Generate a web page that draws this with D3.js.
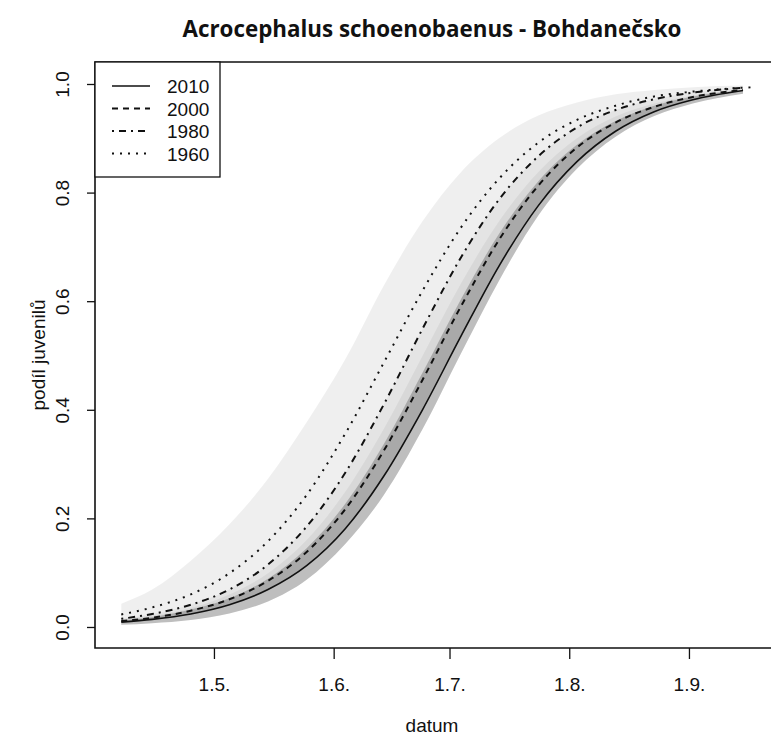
<!DOCTYPE html>
<html><head><meta charset="utf-8">
<script src="https://cdn.jsdelivr.net/npm/d3@7"></script>
<style>body{margin:0;background:#fff;overflow:hidden}svg{display:block}</style>
</head><body>
<svg id="c" width="771" height="740"></svg>
<script>
// ---- data ----
const title = "Acrocephalus schoenobaenus - Bohdanečsko";
const xLabel = "datum";
const yLabel = "podíl juvenilů";
// day of year
const days     = [97,105,115,125,135,145,155,165,175,185,195,205,215,225,235,245,258];
const days1960 = [97,105,115,125,135,145,155,165,175,185,195,205,215,225,235,245,260];
const p2010 = [0.009,0.014,0.024,0.041,0.069,0.113,0.181,0.278,0.400,0.536,0.667,0.776,0.857,0.913,0.949,0.971,0.988];
const p2000 = [0.011,0.017,0.030,0.051,0.085,0.138,0.217,0.325,0.455,0.591,0.715,0.813,0.883,0.929,0.958,0.976,0.989];
const p1980 = [0.015,0.024,0.041,0.069,0.115,0.185,0.284,0.410,0.549,0.681,0.789,0.867,0.920,0.952,0.972,0.984,0.993];
const p1960 = [0.023,0.036,0.060,0.099,0.158,0.243,0.356,0.487,0.619,0.736,0.827,0.892,0.934,0.960,0.977,0.986,0.994];
// confidence band edges
const bandTop    = [0.043,0.069,0.122,0.189,0.273,0.377,0.493,0.629,0.747,0.838,0.901,0.942,0.966,0.981,0.989,0.994,0.997];
const bandBottom = [0.004,0.007,0.013,0.025,0.047,0.087,0.153,0.243,0.364,0.504,0.640,0.758,0.844,0.903,0.941,0.964,0.982];
const band2000Hi = [0.013,0.021,0.035,0.060,0.099,0.160,0.249,0.365,0.499,0.633,0.749,0.838,0.900,0.940,0.964,0.979,0.990];
const band2010Hi = [0.012,0.018,0.032,0.053,0.089,0.145,0.227,0.337,0.468,0.604,0.726,0.821,0.888,0.932,0.960,0.977,0.988];
// axes
const xTickDays   = [121,152,182,213,244];
const xTickLabels = ["1.5.","1.6.","1.7.","1.8.","1.9."];
const yTicks      = [0,0.2,0.4,0.6,0.8,1.0];
const legendYears = ["2010","2000","1980","1960"];

// ---- drawing ----
const svg = d3.select("#c");
const FONT = "'Liberation Sans', Arial, sans-serif";
const L = 95, T = 62, B = 648, R = 800;
const x = d3.scaleLinear().domain([90.2, 266.8]).range([L, 777]);
const y = d3.scaleLinear().domain([-0.0387, 1.0405]).range([B, T]);

const area = d3.area().x(d => x(d[0])).y0(d => y(d[1])).y1(d => y(d[2])).curve(d3.curveMonotoneX);
const line = d3.line().x(d => x(d[0])).y(d => y(d[1])).curve(d3.curveMonotoneX);

const bands = [
  {lo: p2010,      hi: bandTop,    op: 0.063}, // 1960
  {lo: p2010,      hi: p1980,      op: 0.042}, // 1980
  {lo: bandBottom, hi: band2000Hi, op: 0.052}, // 2000
  {lo: bandBottom, hi: band2010Hi, op: 0.214}  // 2010
];
const gb = svg.append("g");
bands.forEach(b => {
  gb.append("path").datum(d3.zip(days, b.lo, b.hi)).attr("d", area)
    .attr("fill", "#000").attr("fill-opacity", b.op).attr("stroke", "none");
});

const series = [
  {data: d3.zip(days1960, p1960), dash: "2,6", w: 2},
  {data: d3.zip(days, p1980), dash: "2,5,7,5", w: 2},
  {data: d3.zip(days, p2000), dash: "6,5", w: 2},
  {data: d3.zip(days, p2010), dash: null, w: 1.6}
];
series.forEach(s => {
  svg.append("path").datum(s.data).attr("d", line).attr("fill", "none")
    .attr("stroke", "#111").attr("stroke-width", s.w)
    .attr("stroke-dasharray", s.dash);
});

// frame (right side lies beyond the picture)
svg.append("path").attr("d", `M${R},${T}H${L}V${B}H${R}`)
  .attr("fill", "none").attr("stroke", "#111").attr("stroke-width", 1.6);

// x axis
const gx = svg.append("g").attr("transform", `translate(0,${B})`)
  .call(d3.axisBottom(x).tickValues(xTickDays).tickFormat((d, i) => xTickLabels[i]).tickSize(11).tickPadding(0));
gx.select(".domain").remove();
gx.selectAll("line").attr("stroke", "#111").attr("stroke-width", 1.3);
gx.selectAll("text").attr("y", 43).attr("dy", 0).style("font-family", FONT).style("font-size", "19px").attr("fill", "#111");

// y axis
const gy = svg.append("g").attr("transform", `translate(${L},0)`)
  .call(d3.axisLeft(y).tickValues(yTicks).tickFormat(d3.format(".1f")).tickSize(8));
gy.select(".domain").remove();
gy.selectAll("line").attr("stroke", "#111").attr("stroke-width", 1.3);
gy.selectAll("text").attr("x", 0).attr("y", -26).attr("dy", 0).attr("transform", "rotate(-90)")
  .attr("text-anchor", "middle").style("font-family", FONT).style("font-size", "19px").attr("fill", "#111");

// axis titles
svg.append("text").attr("x", 432).attr("y", 732).attr("text-anchor", "middle")
  .style("font-family", FONT).style("font-size", "19px").attr("fill", "#111").text(xLabel);
svg.append("text").attr("transform", "translate(45,355) rotate(-90)").attr("text-anchor", "middle")
  .style("font-family", FONT).style("font-size", "19px").attr("fill", "#111").text(yLabel);

// title
const tt = svg.append("text").attr("x", 432).attr("y", 37).attr("text-anchor", "middle")
  .style("font-family", "'Open Sans', sans-serif").style("font-weight", 700).style("font-size", "20px")
  .attr("fill", "#111").text(title);
const tw = tt.node().getComputedTextLength();
tt.style("font-size", (20 * 499 / tw) + "px");

// legend
const lg = svg.append("g");
lg.append("rect").attr("x", L).attr("y", T).attr("width", 125).attr("height", 115)
  .attr("fill", "#fff").attr("stroke", "#111").attr("stroke-width", 1.3);
const legDash = [null, "6,5", "2,5,7,5", "2,6"];
legendYears.forEach((yr, i) => {
  const cy = 86 + i * 22.5;
  lg.append("line").attr("x1", 112).attr("x2", 150).attr("y1", cy).attr("y2", cy)
    .attr("stroke", "#111").attr("stroke-width", i === 0 ? 1.6 : 2).attr("stroke-dasharray", legDash[i]);
  lg.append("text").attr("x", 167).attr("y", cy + 7).style("font-family", FONT).style("font-size", "19px")
    .attr("fill", "#111").text(yr);
});
</script>
</body></html>
